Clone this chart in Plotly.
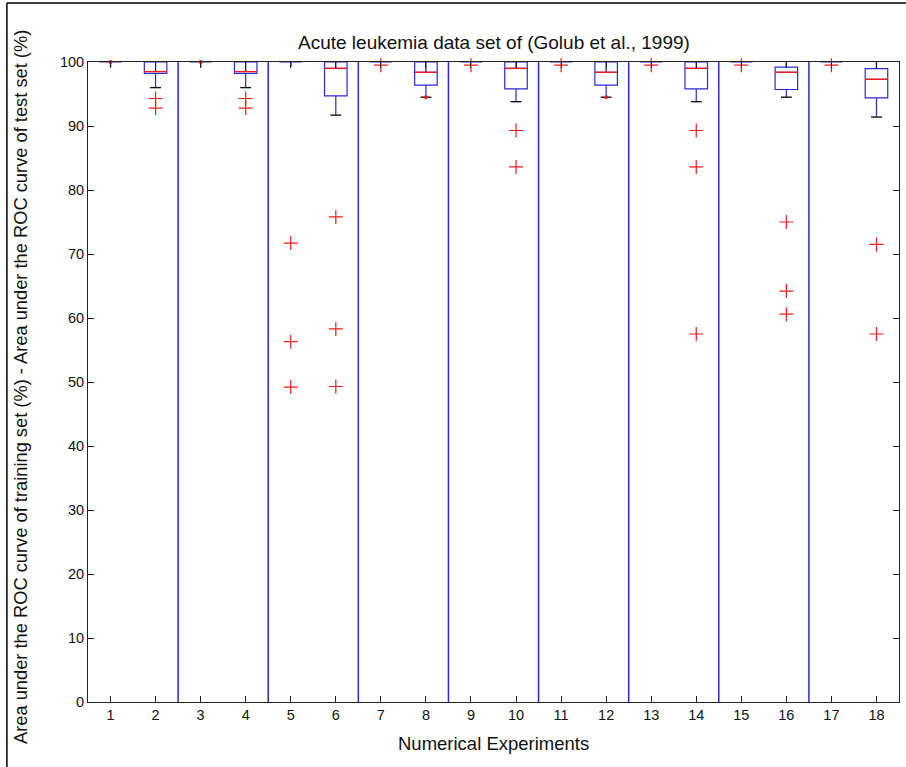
import plotly.graph_objects as go

# Box statistics per numerical experiment (AUC difference, %)
experiments = list(range(1, 19))
q1 = [100, 98.2, 100, 98.2, 100, 94.7, 100, 96.4, 100, 95.8,
      100, 96.4, 100, 95.8, 100, 95.7, 100, 94.4]
median = [100, 98.5, 100, 98.5, 100, 99.0, 100, 98.4, 100, 99.0,
          100, 98.4, 100, 99.0, 100, 98.4, 100, 97.3]
q3 = [100, 100, 100, 100, 100, 100, 100, 100, 100, 100,
      100, 100, 100, 100, 100, 99.2, 100, 98.95]
lower_whisker = [99.2, 96.0, 99.2, 96.0, 99.2, 91.7, 100, 94.5, 100, 93.8,
                 100, 94.5, 100, 93.8, 100, 94.5, 100, 91.4]
upper_whisker = [100] * 18

# Outliers drawn as "+" markers
outlier_exp = [2, 2, 4, 4, 5, 5, 5, 6, 6, 6, 7, 9, 10, 10, 11, 13,
               14, 14, 14, 15, 16, 16, 16, 17, 18, 18]
outlier_val = [94.3, 92.8, 94.3, 92.8, 71.7, 56.3, 49.2, 75.8, 58.3, 49.3,
               99.5, 99.5, 89.3, 83.6, 99.5, 99.5, 89.3, 83.6, 57.5, 99.5,
               75.0, 64.2, 60.6, 99.5, 71.5, 57.5]

# Outliers that coincide with a whisker end
coincident_exp = [1, 3, 8, 12]
coincident_val = [100, 100, 94.5, 94.5]

# Boundaries between pairs of experiments
separators = [2.5, 4.5, 6.5, 8.5, 10.5, 12.5, 14.5, 16.5]

tick_labels = [str(e) for e in experiments]

BLUE = "#2a2ad2"
RED = "#ee1c1c"
BOX_W = 0.5
CAP_W = 0.24

fig = go.Figure()

# Separator lines
sx, sy = [], []
for s in separators:
    sx += [s, s, None]
    sy += [0, 100, None]
fig.add_trace(go.Scatter(x=sx, y=sy, mode="lines",
                         line=dict(color=BLUE, width=1.5),
                         hoverinfo="skip", showlegend=False))

# Box bodies with whiskers
fig.add_trace(go.Box(x=experiments, q1=q1, median=median, q3=q3,
                     lowerfence=lower_whisker, upperfence=upper_whisker,
                     width=BOX_W, whiskerwidth=0, fillcolor="rgba(0,0,0,0)",
                     line=dict(color=BLUE, width=1.2), boxpoints=False,
                     showlegend=False))

# Black upper whisker / collapsed whisker strokes and caps
wx, wy, cx, cy = [], [], [], []
for e, a, m, b, lo, hi in zip(experiments, q1, median, q3,
                              lower_whisker, upper_whisker):
    if a == b:
        if lo < a:
            wx += [e, e, None]
            wy += [hi, lo, None]
        continue
    end = m if b == hi else b
    if hi > end:
        wx += [e, e, None]
        wy += [hi, end, None]
    if lo < a:
        cx += [e - CAP_W / 2, e + CAP_W / 2, None]
        cy += [lo, lo, None]
fig.add_trace(go.Scatter(x=wx, y=wy, mode="lines",
                         line=dict(color="#111111", width=1.2),
                         hoverinfo="skip", showlegend=False))
fig.add_trace(go.Scatter(x=cx, y=cy, mode="lines",
                         line=dict(color="#111111", width=1.4),
                         hoverinfo="skip", showlegend=False))

# Red medians
mx, my = [], []
for e, a, m, b in zip(experiments, q1, median, q3):
    if a == b:
        continue
    mx += [e - BOX_W / 2, e + BOX_W / 2, None]
    my += [m, m, None]
fig.add_trace(go.Scatter(x=mx, y=my, mode="lines",
                         line=dict(color=RED, width=1.4),
                         hoverinfo="skip", showlegend=False))

# Outliers
fig.add_trace(go.Scatter(x=outlier_exp, y=outlier_val, mode="markers",
                         marker=dict(symbol="cross-thin", size=10,
                                     line=dict(color=RED, width=1.2)),
                         cliponaxis=False, showlegend=False))
fig.add_trace(go.Scatter(x=coincident_exp, y=coincident_val, mode="markers",
                         marker=dict(symbol="circle", size=4, color=RED),
                         cliponaxis=False, showlegend=False))

axis_common = dict(showline=True, linecolor="#222222", linewidth=1,
                   mirror="ticks", ticks="inside", ticklen=6,
                   tickcolor="#222222", showgrid=False, zeroline=False,
                   tickfont=dict(family="Liberation Sans", size=14.5,
                                 color="#111111"))

fig.update_layout(
    width=906, height=767,
    margin=dict(l=88, r=7, t=62, b=65),
    paper_bgcolor="white", plot_bgcolor="white",
    xaxis=dict(range=[0.5, 18.5], tickvals=experiments,
               ticktext=tick_labels, **axis_common),
    yaxis=dict(range=[0, 100], tickvals=list(range(0, 101, 10)),
               **axis_common),
    font=dict(family="Liberation Sans", color="#111111"),
    annotations=[
        dict(text="Acute leukemia data set of (Golub et al., 1999)",
             xref="paper", yref="paper", x=0.5, y=1, yshift=20,
             xanchor="center", yanchor="middle", showarrow=False,
             font=dict(size=19)),
        dict(text="Numerical Experiments",
             xref="paper", yref="paper", x=0.5, y=0, yshift=-41,
             xanchor="center", yanchor="middle", showarrow=False,
             font=dict(size=18.5)),
        dict(text="Area under the ROC curve of training set (%) - "
                  "Area under the ROC curve of test set (%)",
             xref="paper", yref="paper", x=0, y=0.5, xshift=-68,
             yshift=-5, xanchor="center", yanchor="middle", textangle=-90,
             showarrow=False, font=dict(size=18.3)),
    ],
    shapes=[
        dict(type="line", xref="paper", yref="paper",
             x0=-0.1, x1=1.02, y0=1.092, y1=1.092,
             line=dict(color="black", width=1.5)),
        dict(type="line", xref="paper", yref="paper",
             x0=-0.1, x1=-0.1, y0=1.092, y1=-0.11,
             line=dict(color="black", width=1.5)),
    ],
)

fig.write_html("out.html")
